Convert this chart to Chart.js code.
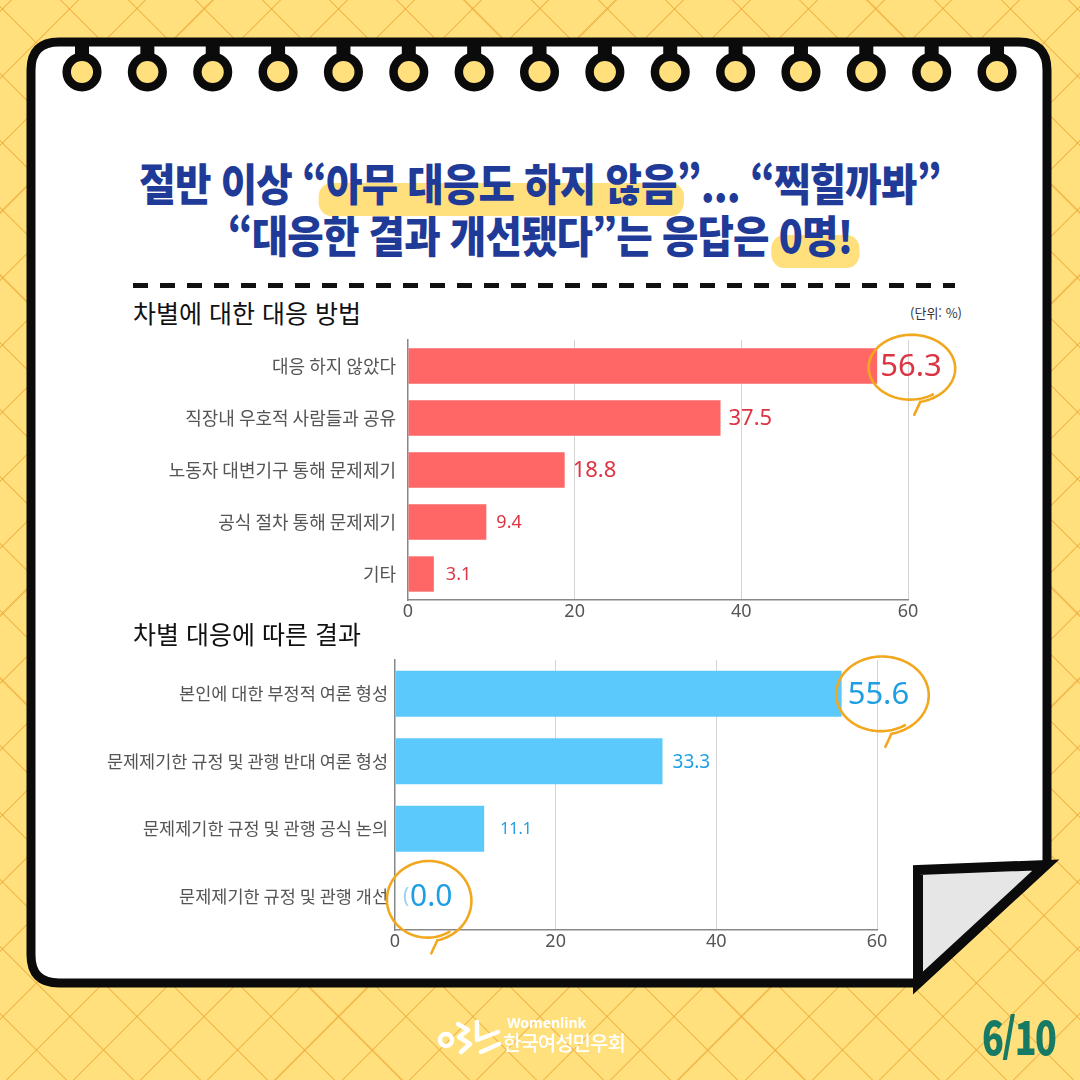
<!DOCTYPE html>
<html lang="ko">
<head>
<meta charset="utf-8">
<script src="https://cdn.jsdelivr.net/npm/chart.js@4.4.1/dist/chart.umd.min.js"></script>
<style>
  html, body { margin: 0; padding: 0; }
  body {
    width: 1080px; height: 1080px; overflow: hidden; position: relative;
    background-color: #FFE07D;
    background-image:
      repeating-linear-gradient(45deg, transparent 0 46px, rgba(238,170,58,.6) 46px 47.5px),
      repeating-linear-gradient(-45deg, transparent 0 46px, rgba(238,170,58,.6) 46px 47.5px);
    font-family: 'Noto Sans CJK KR', 'Noto Sans', sans-serif;
  }
  #frame { position: absolute; left: 0; top: 0; }
  .title {
    position: absolute; left: 0; top: 156px; width: 1080px; text-align: center;
    font-weight: 900; font-size: 44px; line-height: 52px; color: #1F3B97;
    letter-spacing: -1px; transform: scaleX(0.9); transform-origin: 540px 0;
  }
  .hl { position: relative; z-index: 0; }
  .hl::before {
    content: ''; position: absolute; left: -8px; right: -8px; top: 52%; bottom: -2px;
    background: #FFE07D; border-radius: 14px; z-index: -1;
  }
  .dash {
    position: absolute; left: 133px; top: 283px; width: 822px; height: 5px;
    background: repeating-linear-gradient(90deg, #111 0 15px, transparent 15px 27px);
  }
  .sub { position: absolute; left: 133px; font-size: 25px; color: #111; font-weight: 400; }
  .unit { position: absolute; right: 118px; top: 303px; font-size: 13px; color: #333; }
  canvas { position: absolute; }
  .page {
    position: absolute; left: 982px; top: 1002px; font-size: 46px; font-weight: 900;
    color: #177A64; transform: scaleX(0.78); transform-origin: 0 0; letter-spacing: -2px;
  }
  .logo-en { position: absolute; left: 507px; top: 1013px; font-family: 'Noto Sans', sans-serif; font-size: 14px; color: #fff; font-weight: 700; }
  .logo-ko { position: absolute; left: 503px; top: 1028px; font-size: 20px; color: #fff; font-weight: 500; letter-spacing: -1px; }
</style>
</head>
<body>
<svg id="frame" width="1080" height="1080"></svg>

<div class="title">
  절반 이상 “<span class="hl">아무 대응도 하지 않음</span>”... “찍힐까봐”<br>
  “대응한 결과 개선됐다”는 응답은 <span class="hl">0명!</span>
</div>
<div class="dash"></div>

<div class="sub" style="top:294px">차별에 대한 대응 방법</div>
<div class="unit">(단위: %)</div>
<canvas id="methodChart" width="880" height="300" style="left:100px;top:330px"></canvas>

<div class="sub" style="top:615px">차별 대응에 따른 결과</div>
<canvas id="resultChart" width="880" height="310" style="left:100px;top:650px"></canvas>

<svg width="1080" height="1080" style="position:absolute;left:0;top:0;pointer-events:none">
  <g fill="none" stroke="#fff" stroke-width="4.5" stroke-linecap="round" stroke-linejoin="round">
    <circle cx="446" cy="1040" r="6"/>
    <polyline points="458,1024 468,1030 459,1037 470,1044 461,1052"/>
    <polyline points="477,1022 477,1040 498,1032"/>
    <line x1="481" y1="1052" x2="499" y2="1044"/>
  </g>
</svg>
<div class="logo-en">Womenlink</div>
<div class="logo-ko">한국여성민우회</div>
<div class="page">6/10</div>

<script>
// 차별에 대한 대응 방법
const methodLabels = ['대응 하지 않았다', '직장내 우호적 사람들과 공유', '노동자 대변기구 통해 문제제기', '공식 절차 통해 문제제기', '기타'];
const methodValues = [56.3, 37.5, 18.8, 9.4, 3.1];

// 차별 대응에 따른 결과
const resultLabels = ['본인에 대한 부정적 여론 형성', '문제제기한 규정 및 관행 반대 여론 형성', '문제제기한 규정 및 관행 공식 논의', '문제제기한 규정 및 관행 개선'];
const resultValues = [55.6, 33.3, 11.1, 0.0];

const xTicks = [0, 20, 40, 60];

// frame: card, binder rings and folded corner
(function drawFrame() {
    const svg = document.getElementById('frame');
    let html = '<path d="M59,42 H1019 Q1047,42 1047,70 V864 L918,983 H59 Q31,983 31,955 V70 Q31,42 59,42 Z" fill="#fff" stroke="#0b0b0b" stroke-width="9"/>';
    html += '<polygon points="918,870 1046,865 918,983" fill="#E6E6E6" stroke="#0b0b0b" stroke-width="10" stroke-linejoin="miter"/>';
    for (let i = 0; i < 15; i++) {
        const cx = 82 + i * 65.36;
        html += `<rect x="${cx - 7}" y="40" width="14" height="22" fill="#0b0b0b"/>`;
        html += `<circle cx="${cx}" cy="72" r="15.3" fill="#FFE07D" stroke="#0b0b0b" stroke-width="8.5"/>`;
    }
    svg.innerHTML = html;
})();

// hand drawn marker ring
function drawRing(ctx, cx, cy, rx, ry) {
    ctx.save();
    ctx.strokeStyle = '#F2A81E';
    ctx.lineWidth = 2.6;
    ctx.lineCap = 'round';
    ctx.lineJoin = 'round';
    ctx.beginPath();
    const start = 0.32 * Math.PI, end = start + 2.12 * Math.PI;
    let lx = 0, ly = 0;
    for (let t = start; t <= end; t += 0.04) {
        const k = 0.95 + 0.1 * (t - start) / (end - start);
        lx = cx + Math.cos(t) * rx * k;
        ly = cy + Math.sin(t) * ry * k;
        if (t === start) ctx.moveTo(lx, ly); else ctx.lineTo(lx, ly);
    }
    ctx.lineTo(lx - 6, ly + 13);
    ctx.stroke();
    ctx.restore();
}

const valueLabels = {
    id: 'valueLabels',
    afterDatasetsDraw(chart, args, opts) {
        const ctx = chart.ctx;
        const values = chart.data.datasets[0].data;
        chart.getDatasetMeta(0).data.forEach((bar, i) => {
            const size = opts.sizes[i];
            const text = values[i].toFixed(1);
            const x = bar.x + opts.offsets[i];
            const y = bar.y + 1;
            ctx.save();
            ctx.textBaseline = 'middle';
            ctx.textAlign = 'left';
            if (opts.prefix && opts.prefix[i]) {
                ctx.fillStyle = 'rgba(30,159,227,0.45)';
                ctx.font = `${size * 0.7}px 'Noto Sans', sans-serif`;
                ctx.fillText(opts.prefix[i], x - 7, y);
            }
            ctx.font = `${size}px 'Noto Sans', sans-serif`;
            const w = ctx.measureText(text).width;
            ctx.fillStyle = opts.color;
            ctx.fillText(text, x, y);
            ctx.restore();
            const ring = opts.rings[i];
            if (ring) drawRing(ctx, x + w / 2 + ring.dx, y + ring.dy, ring.rx, ring.ry);
        });
    }
};

function makeChart(canvasId, labels, values, barColor, axisWidth, padRight, labelSize, labelOpts) {
    const ctx = document.getElementById(canvasId).getContext('2d');
    return new Chart(ctx, {
        type: 'bar',
        data: {
            labels: labels,
            datasets: [{
                data: values,
                backgroundColor: barColor,
                borderWidth: 0,
                barPercentage: 0.68,
                categoryPercentage: 1
            }]
        },
        options: {
            indexAxis: 'y',
            responsive: false,
            animation: false,
            layout: { padding: { top: 10, right: padRight, left: 0, bottom: 0 } },
            plugins: {
                legend: { display: false },
                tooltip: { enabled: false },
                valueLabels: labelOpts
            },
            scales: {
                x: {
                    min: 0,
                    max: 60,
                    afterBuildTicks: s => { s.ticks = xTicks.map(v => ({ value: v })); },
                    afterFit: s => { s.height = 30; },
                    grid: {
                        drawTicks: false,
                        color: c => c.tick && c.tick.value === 0 ? 'rgba(0,0,0,0)' : '#D4D4D4',
                        lineWidth: 1
                    },
                    border: { display: true, color: '#888', width: 1.5 },
                    ticks: {
                        padding: 1,
                        color: '#555',
                        font: { family: "'Noto Sans', sans-serif", size: 18 }
                    }
                },
                y: {
                    afterFit: s => { s.width = axisWidth; s.paddingTop = 0; s.paddingBottom = 0; },
                    grid: { display: false, drawTicks: false },
                    border: { display: true, color: '#888', width: 1.5 },
                    ticks: {
                        padding: labelOpts.tickPad,
                        color: '#555',
                        font: { family: "'Noto Sans CJK KR', sans-serif", size: labelSize }
                    }
                }
            }
        },
        plugins: [valueLabels]
    });
}

makeChart('methodChart', methodLabels, methodValues, '#FF6666', 308, 72, 18, {
    color: '#DB3443',
    sizes: [31, 22, 22, 18, 18],
    offsets: [3, 8, 8, 10, 12],
    tickPad: 12,
    rings: [{ dx: 0, dy: 1, rx: 43, ry: 33 }, null, null, null, null]
});

makeChart('resultChart', resultLabels, resultValues, '#5CC9FD', 295, 103, 17.5, {
    color: '#1E9FE3',
    sizes: [31, 19, 16, 30],
    offsets: [6, 10, 16, 15],
    tickPad: 7,
    prefix: [null, null, null, '('],
    rings: [{ dx: 3, dy: 0, rx: 46, ry: 38 }, null, null, { dx: -3, dy: 3, rx: 42, ry: 39 }]
});
</script>
</body>
</html>
